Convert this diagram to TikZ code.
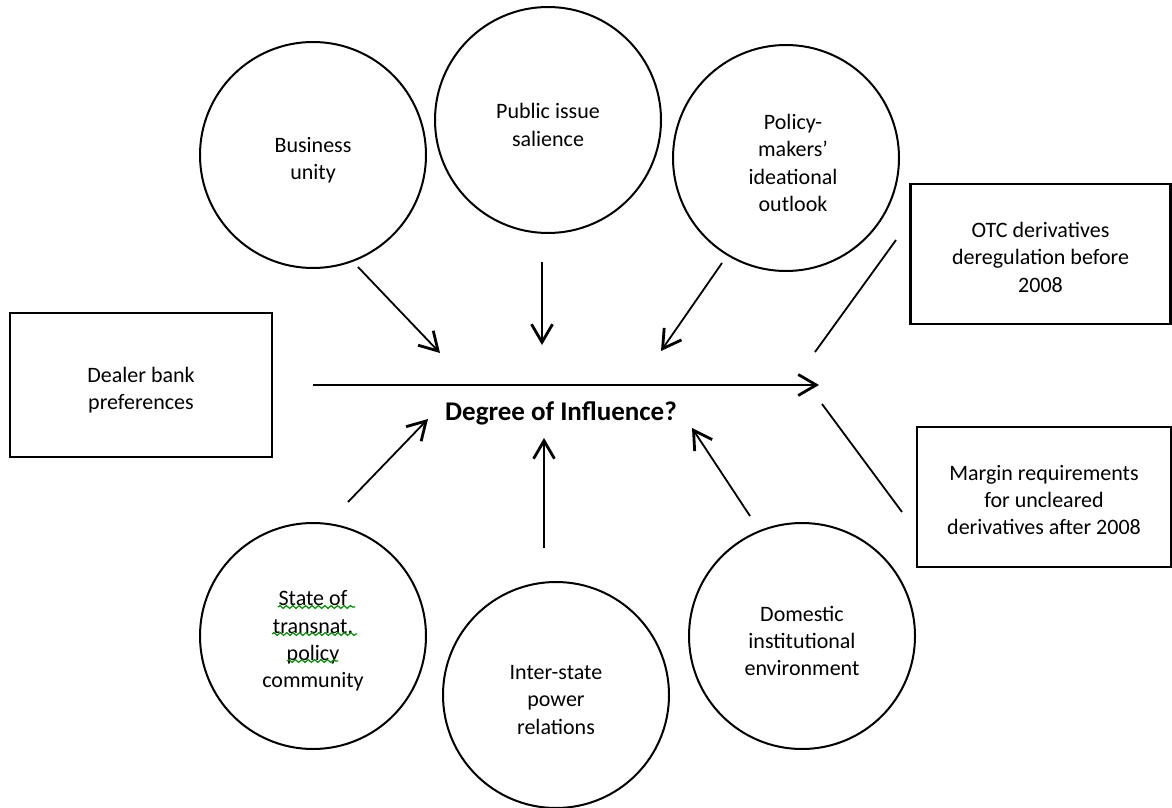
\documentclass[tikz,border=0pt]{standalone}
\usepackage{fontspec}
\setmainfont{Carlito}
\usetikzlibrary{arrows.meta,decorations.pathmorphing}

\begin{document}
\begin{tikzpicture}[x=0.5pt,y=-0.5pt,
  txt/.style={font=\fontsize{11}{13.7}\selectfont,align=center},
  inside/.style={txt,yshift=-2.5pt},
  factor/.style={circle,draw,line width=1pt,minimum size=113pt,inner sep=0pt},
  outcome/.style={draw,line width=1.3pt,inner sep=0pt},
  arr/.style={line width=0.9pt,-{Straight Barb[length=9pt,width=10.5pt,line width=1.4pt]}},
  link/.style={line width=0.9pt},
  spell/.style={draw=green!55!black,line width=0.6pt,decorate,
    decoration={snake,amplitude=0.7pt,segment length=3.2pt}}]
  \useasboundingbox (0,0) rectangle (1172,808);

  % influencing factors
  \node[factor,label={[inside]center:Business\\unity}] (bu) at (313,155) {};
  \node[factor,label={[inside]center:Public issue\\salience}] (pi) at (548,120) {};
  \node[factor,label={[inside,xshift=3.5pt]center:Policy-\\makers'\\ideational\\outlook}] (pm) at (786,158) {};
  \node[factor,label={[inside]center:State of\\transnat.\\policy\\community}] (tp) at (313,636) {};
  \node[factor,label={[inside]center:Inter-state\\power\\relations}] (is) at (556,695) {};
  \node[factor,label={[inside]center:Domestic\\institutional\\environment}] (di) at (802,636) {};

  % starting point and outcomes
  \node[outcome,minimum width=131pt,minimum height=72pt,
    label={[inside]center:Dealer bank\\preferences}] (db) at (141,385) {};
  \node[outcome,minimum width=130pt,minimum height=70pt,
    label={[txt,yshift=-1.7pt]center:OTC derivatives\\deregulation before\\2008}] (otc) at (1040.5,254) {};
  \node[outcome,minimum width=127pt,minimum height=70pt,
    label={[txt,yshift=-1.5pt]center:Margin requirements\\for uncleared\\derivatives after 2008}] (mr) at (1044,497) {};

  % central question
  \node[font=\fontsize{13.5}{16}\selectfont\bfseries] (doi) at (561,413) {Degree of Influence?};

  % free ends of the connectors
  \coordinate (m-start) at (313,385);
  \coordinate (m-end) at (819,385);
  \coordinate (bu-a) at (358,267);  \coordinate (bu-b) at (440,353);
  \coordinate (pi-a) at (542,262);  \coordinate (pi-b) at (542,345);
  \coordinate (pm-a) at (722,263);  \coordinate (pm-b) at (661,351);
  \coordinate (tp-a) at (348,502);  \coordinate (tp-b) at (428,419);
  \coordinate (is-a) at (544,548);  \coordinate (is-b) at (544,438);
  \coordinate (di-a) at (750,516);  \coordinate (di-b) at (692,428);
  \coordinate (otc-a) at (815,352); \coordinate (otc-b) at (896,240);
  \coordinate (mr-a) at (822,404);  \coordinate (mr-b) at (902,512);

  % main path from preferences towards outcomes
  \draw[arr] (m-start) -- (m-end);
  \draw[link] (otc-a) -- (otc-b);
  \draw[link] (mr-a) -- (mr-b);

  % factor arrows
  \draw[arr] (bu-a) -- (bu-b);
  \draw[arr] (pi-a) -- (pi-b);
  \draw[arr] (pm-a) -- (pm-b);
  \draw[arr] (tp-a) -- (tp-b);
  \draw[arr] (is-a) -- (is-b);
  \draw[arr] (di-a) -- (di-b);

  % wavy underlines beneath the abbreviated words
  \draw[spell] (278,607) -- (355,607);
  \draw[spell] (272,634) -- (357,634);
  \draw[spell] (287,661) -- (338,661);
\end{tikzpicture}
\end{document}
